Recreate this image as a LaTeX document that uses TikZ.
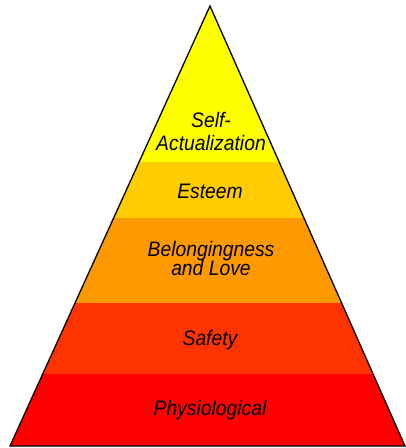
\documentclass[tikz,border=0pt]{standalone}
\usepackage{fontspec}
\setmainfont{Liberation Sans}
\definecolor{lvA}{HTML}{FFFF00}
\definecolor{lvB}{HTML}{FFCC00}
\definecolor{lvC}{HTML}{FF9900}
\definecolor{lvD}{HTML}{FF3300}
\definecolor{lvE}{HTML}{FF0000}
\newcommand{\pyrtext}[1]{\scalebox{0.92}[1]{#1}}
\tikzset{
  lbl/.style={anchor=base, inner sep=0pt, text=black,
    font=\fontsize{21}{23}\selectfont\itshape}
}
\begin{document}
\begin{tikzpicture}[x=1pt,y=-1pt]
\useasboundingbox (0,0) rectangle (406,448);
\fill[white] (0,0) rectangle (406,448);
\coordinate (apex) at (210,6);
\coordinate (bl) at (10,446);
\coordinate (br) at (405,446);
\begin{scope}
  \clip (apex) -- (bl) -- (br) -- cycle;
  \fill[lvA] (0,0) rectangle (406,162);
  \fill[lvB] (0,162) rectangle (406,218);
  \fill[lvC] (0,218) rectangle (406,303);
  \fill[lvD] (0,303) rectangle (406,374);
  \fill[lvE] (0,374) rectangle (406,448);
\end{scope}
\draw[black, line width=1.3pt, line join=miter] (apex) -- (bl) -- (br) -- cycle;
\node[lbl] (self) at (211,127) {\pyrtext{Self-}};
\node[lbl] (actual) at (211,150) {\pyrtext{Actualization}};
\node[lbl] (esteem) at (210,198) {\pyrtext{Esteem}};
\node[lbl] (belong) at (211,256) {\pyrtext{Belongingness}};
\node[lbl] (love) at (211,275) {\pyrtext{and Love}};
\node[lbl] (safety) at (210,345) {\pyrtext{Safety}};
\node[lbl] (phys) at (210,415) {\pyrtext{Physiological}};
\end{tikzpicture}
\end{document}
